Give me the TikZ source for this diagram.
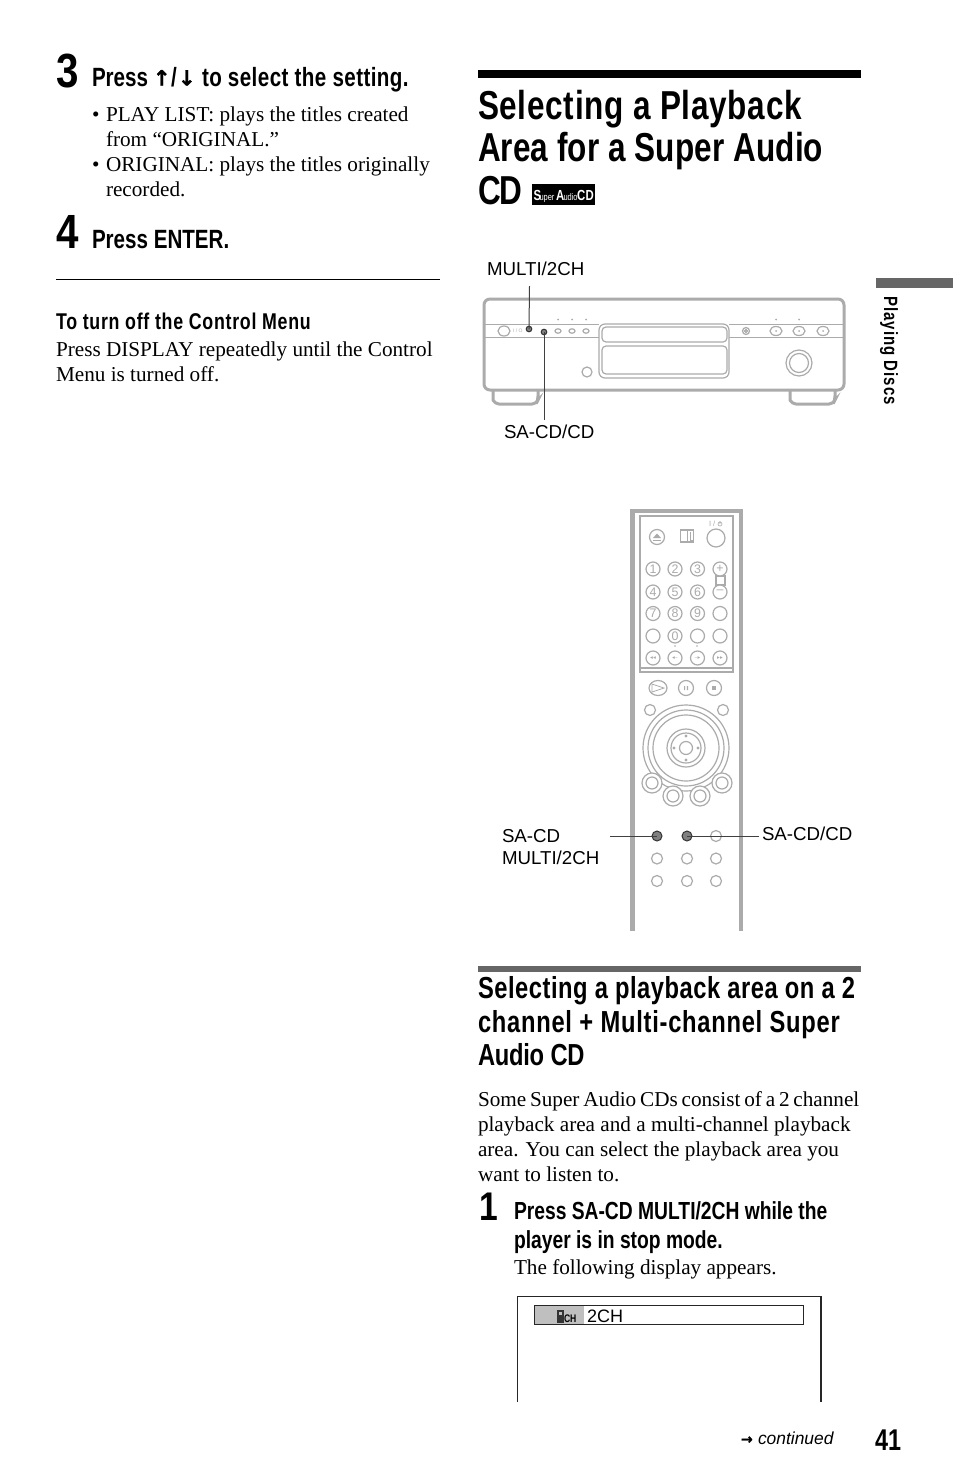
\documentclass[tikz,border=0pt]{standalone}
\usepackage{fontspec}
\setmainfont{Liberation Serif}
\setsansfont{Liberation Sans}
\newfontfamily\cond{Liberation Sans}[FakeStretch=0.78,BoldFeatures={FakeStretch=0.78}]
\newfontfamily\condw{Liberation Sans}[FakeStretch=0.84,BoldFeatures={FakeStretch=0.84}]
\newfontfamily\djv{DejaVu Sans}[BoldFeatures={FakeBold=1.6}]
\definecolor{pg}{HTML}{ABABAB}
\definecolor{bar}{HTML}{666666}
\newcommand\fs[1]{\fontsize{#1}{#1}\selectfont}
\newcommand\ls[1]{\addfontfeature{LetterSpace=#1}}
\tikzset{
  txt/.style={anchor=base west,inner sep=0pt,outer sep=0pt},
  body/.style={txt,font=\fs{10.6}},
  lab/.style={txt,font=\sffamily\fs{9.35}},
  stephead/.style={txt,font=\cond\bfseries\fs{13.2}},
  steptwo/.style={txt,font=\cond\bfseries\fs{12.35}},
  sechead/.style={txt,font=\cond\bfseries\fs{15.2}},
  mainhead/.style={txt,font=\cond\bfseries\fs{20.2}},
  bignum/.style={txt,font=\condw\bfseries\fs{24}},
  art/.style={draw=pg,line width=0.6pt,fill=white},
  artthick/.style={draw=pg,line width=1.5pt},
  leader/.style={draw=black!75,line width=0.5pt},
  btn/.style={circle,draw=pg,line width=0.6pt,fill=white,inner sep=0pt,minimum size=7pt},
  darkbtn/.style={circle,draw=black!80,line width=0.5pt,fill=black!50,inner sep=0pt,minimum size=5pt},
  logotxt/.style={txt,text=white,font=\cond\bfseries\fs{7.3}},
  logosmall/.style={txt,text=white,font=\cond\fs{4.8}}
}
\begin{document}
\begin{tikzpicture}[x=0.5pt,y=-0.5pt]
\path[use as bounding box,fill=white] (0,0) rectangle (954,1483);
% left column
\node[bignum] (n3) at (56,87) {3};
\node[stephead] (s3a) at (92,86) {Press};
\node[txt,font=\djv\bfseries\fs{10.5}] (s3up) at (153,85.5) {↑};
\node[stephead] (s3sl) at (171,86) {/};
\node[txt,font=\djv\bfseries\fs{10.5}] (s3dn) at (178,85.5) {↓};
\node[stephead] (s3b) at (202,86) {\ls{1.6}to select the setting.};
\node[body] (l1) at (92,121) {•};
\node[body] (l1b) at (106,121) {PLAY LIST: plays the titles created};
\node[body] (l2b) at (106,146) {from “ORIGINAL.”};
\node[body] (l3) at (92,171) {•};
\node[body] (l3b) at (106,171) {ORIGINAL: plays the titles originally};
\node[body] (l4b) at (106,196) {recorded.};
\node[bignum] (n4) at (56,248) {4};
\node[stephead] (s4) at (92,248) {Press ENTER.};
\draw[black,line width=0.5pt] (56,279.5) -- (440,279.5);
\node[txt,font=\cond\bfseries\fs{11.4}] (h5) at (56,329) {\ls{3.2}To turn off the Control Menu};
\node[body] (b1) at (56,356) {Press DISPLAY repeatedly until the Control};
\node[body] (b2) at (56,381) {Menu is turned off.};
% main heading
\fill[black] (478,70) rectangle (861,78);
\node[mainhead] (m1) at (478,119) {\ls{1.75}Selecting a Playback};
\node[mainhead] (m2) at (478,161) {\ls{0.3}Area for a Super Audio};
\node[mainhead] (m3) at (478,204) {\ls{-3}CD};
\fill[black] (532,184) rectangle (595,205);
\node[logotxt] (lg1) at (533.5,200) {S};
\node[logosmall] (lg2) at (539.5,200) {uper};
\node[logotxt] (lg3) at (556,200) {A};
\node[logosmall] (lg4) at (563.5,200) {udio};
\node[logotxt] (lg5) at (577,200) {C};
\node[logotxt] (lg6) at (585.5,200) {D};
% player
\node[lab] (lmulti) at (487,275) {MULTI/2CH};
\node[lab] (lsacd) at (504,438) {SA-CD/CD};
\draw[artthick] (493,391) -- (493,400) [rounded corners=2pt] -- (495,404) -- (536,404) -- (538,400) -- (538,391);
\draw[artthick] (790,391) -- (790,400) [rounded corners=2pt] -- (792,404) -- (833,404) -- (835,400) -- (835,391);
\draw[artthick,rounded corners=3pt,fill=white] (484,299) rectangle (844,390);
\draw[draw=pg,line width=0.4pt] (485,324) -- (599,324) (729,324) -- (843,324) (485,337) -- (599,337) (729,337) -- (843,337);
\draw[art,rounded corners=3pt] (599,324) rectangle (729,378);
\draw[art,rounded corners=2pt] (602,327) rectangle (727,342);
\draw[art,rounded corners=2pt] (602,346) rectangle (727,374);
\draw[art] (504,331) ellipse (6 and 5);
\node[txt,text=pg,font=\sffamily\fs{2.5}] (tinyp) at (513,332) {I / O};
\foreach \x in {558,572,586} {\draw[art] (\x,331) ellipse (3 and 2.2); \fill[pg] (\x,319.5) circle (1);}
\foreach \x in {776,799} \fill[pg] (\x,319.5) circle (1);
\draw[art] (587,372) circle (5);
\draw[art] (746,331) circle (3.5); \draw[art] (746,331) circle (1.5);
\foreach \x in {776,799,823} {\draw[art] (\x,331) ellipse (6 and 4.5);\fill[pg] (\x,331) circle (1);}
\draw[art] (799,363) circle (13); \draw[art] (799,363) circle (9.5);
\node[darkbtn,minimum size=2.8pt] (bmulti) at (529,329) {};
\node[darkbtn,minimum size=2.8pt] (bsacd) at (544,332) {};
\coordinate (cmulti) at (529.5,286);
\coordinate (csacd) at (544,420);
\draw[leader] (cmulti) -- (bmulti.center);
\draw[leader] (csacd) -- (bsacd.center);
% remote
\fill[pg] (630,509) rectangle (743,513);
\fill[pg] (630,509) rectangle (634.5,931);
\fill[pg] (738.5,509) rectangle (743,931);
\draw[art,fill=none] (640,516) rectangle (733,672);
\draw[draw=pg,line width=0.6pt] (640,668) -- (733,668);
\node[btn,minimum size=7.5pt] (eject) at (657,537) {};
\fill[pg] (653,538) -- (657,533.5) -- (661,538) -- cycle;
\draw[pg,line width=0.4pt] (653,540) -- (661,540);
\draw[art] (680.5,530) rectangle (693.5,542); \draw[pg,line width=0.4pt] (687,530) -- (687,542) (690,532) -- (690,540) -- (693,540);
\node[btn,minimum size=9pt] (power) at (716,538) {};
\node[txt,text=pg,font=\sffamily\fs{3.8}] (powtxt) at (709,526) {I /};
\draw[pg,line width=0.3pt] (720,524) circle (2) (720,521) -- (720,524);
\draw[art] (716,576) rectangle (725,585);
\foreach \xx/\yy/\t [count=\i] in {
  653/569/1,675/569/2,697.5/569/3,720/569/+,
  653/592/4,675/592/5,697.5/592/6,720/592/–,
  653/613.5/7,675/613.5/8,697.5/613.5/9,720/613.5/{},
  653/636/{},675/636/0,697.5/636/{},720/636/{}}
  \node[btn,font=\sffamily\fs{6.2},text=pg] (rk\i) at (\xx,\yy) {\t};
\foreach \xx/\t [count=\i] in {653/{◂◂},675/{◂–},697.5/{–▸},720/{▸▸}}
  \node[btn,font=\djv\fs{2.8},text=pg] (rs\i) at (\xx,658) {\t};
\fill[pg] (675,646) circle (0.8) (697,646) circle (0.8);
\draw[art] (658,688) ellipse (9 and 7.5);
\draw[pg,line width=0.4pt] (652,684) -- (664,688) -- (652,692) -- cycle;
\draw[art] (686,688) circle (7.5);
\fill[pg] (684,686) rectangle (685.2,690) (686.8,686) rectangle (688,690);
\draw[art] (714,688) circle (7.5);
\fill[pg] (712,686) rectangle (716,690);
\draw[art] (650,710) circle (5.5);
\draw[art] (723,710) circle (5.5);
\foreach \r in {43,38,33,19,15,6.5} \draw[art,fill=none] (686,748) circle (\r);
\foreach \dx/\dy in {0/-12,0/12,-12/0,12/0} \fill[pg] (686+\dx,748+\dy) circle (1.6);
\foreach \xx/\yy in {652/783,673/796,700/796,722/783} {
  \draw[art] (\xx,\yy) circle (10);
  \draw[art] (\xx,\yy) circle (6);
}
\node[darkbtn] (bmc) at (657,836) {};
\node[darkbtn] (bcd) at (687,836) {};
\node[btn,minimum size=5.5pt] (k3) at (716,836) {};
\foreach \xx/\yy [count=\i] in {657/858.5,687/858.5,716/858.5,657/881,687/881,716/881}
  \node[btn,minimum size=5.5pt] (kk\i) at (\xx,\yy) {};
\node[lab] (lmc1) at (502,842) {SA-CD};
\node[lab] (lmc2) at (502,864) {MULTI/2CH};
\node[lab] (lcd) at (762,840) {SA-CD/CD};
\coordinate (cmc) at (610,836);
\coordinate (ccd) at (759,836);
\draw[leader] (cmc) -- (bmc.center);
\draw[leader] (ccd) -- (bcd.center);
% section
\fill[bar] (478,966) rectangle (861,971.5);
\node[sechead] (q1) at (478,998) {\ls{1.75}Selecting a playback area on a 2};
\node[sechead] (q2) at (478,1032) {\ls{2.45}channel + Multi-channel Super};
\node[sechead] (q3) at (478,1065) {\ls{-0.8}Audio CD};
\node[body] (p1) at (478,1106) {\spaceskip=1.9pt Some Super Audio CDs consist of a 2 channel};
\node[body] (p2) at (478,1131) {playback area and a multi-channel playback};
\node[body] (p3) at (478,1156) {area. You can select the playback area you};
\node[body] (p4) at (478,1181) {want to listen to.};
\node[bignum,font=\condw\bfseries\fs{20}] (n1) at (479,1220) {1};
\node[steptwo] (t1) at (514,1219) {Press SA-CD MULTI/2CH while the};
\node[steptwo] (t2) at (514,1248) {player is in stop mode.};
\node[body] (t3) at (514,1274) {The following display appears.};
% display
\draw[black!85,line width=0.8pt] (517.5,1402) -- (517.5,1296.5) -- (821,1296.5) -- (821,1402);
\fill[black!25] (534,1305.5) rectangle (584,1324);
\draw[black!85,line width=0.45pt] (534,1305.5) rectangle (803.5,1324);
\fill[black!80] (557,1310) rectangle (564,1323);
\fill[black!25] (559,1312) rectangle (561.5,1315);
\node[txt,font=\cond\bfseries\fs{5.5}] (ch) at (564,1322.5) {CH};
\node[lab,font=\sffamily\fs{9}] (ch2) at (587,1322) {2CH};
% tab
\fill[bar] (876,278) rectangle (953,287.5);
\node[anchor=base west,inner sep=0pt,rotate=-90,font=\cond\bfseries\fs{9.6}] (side) at (884,296) {\ls{5.3}Playing Discs};
% footer
\node[txt,font=\djv\bfseries\fs{7}] (arr) at (741,1444) {→};
\node[txt,font=\sffamily\itshape\fs{8.7}] (cont) at (758,1444) {continued};
\node[txt,font=\cond\bfseries\fs{15}] (pn) at (875,1450) {41};
\end{tikzpicture}
\end{document}
